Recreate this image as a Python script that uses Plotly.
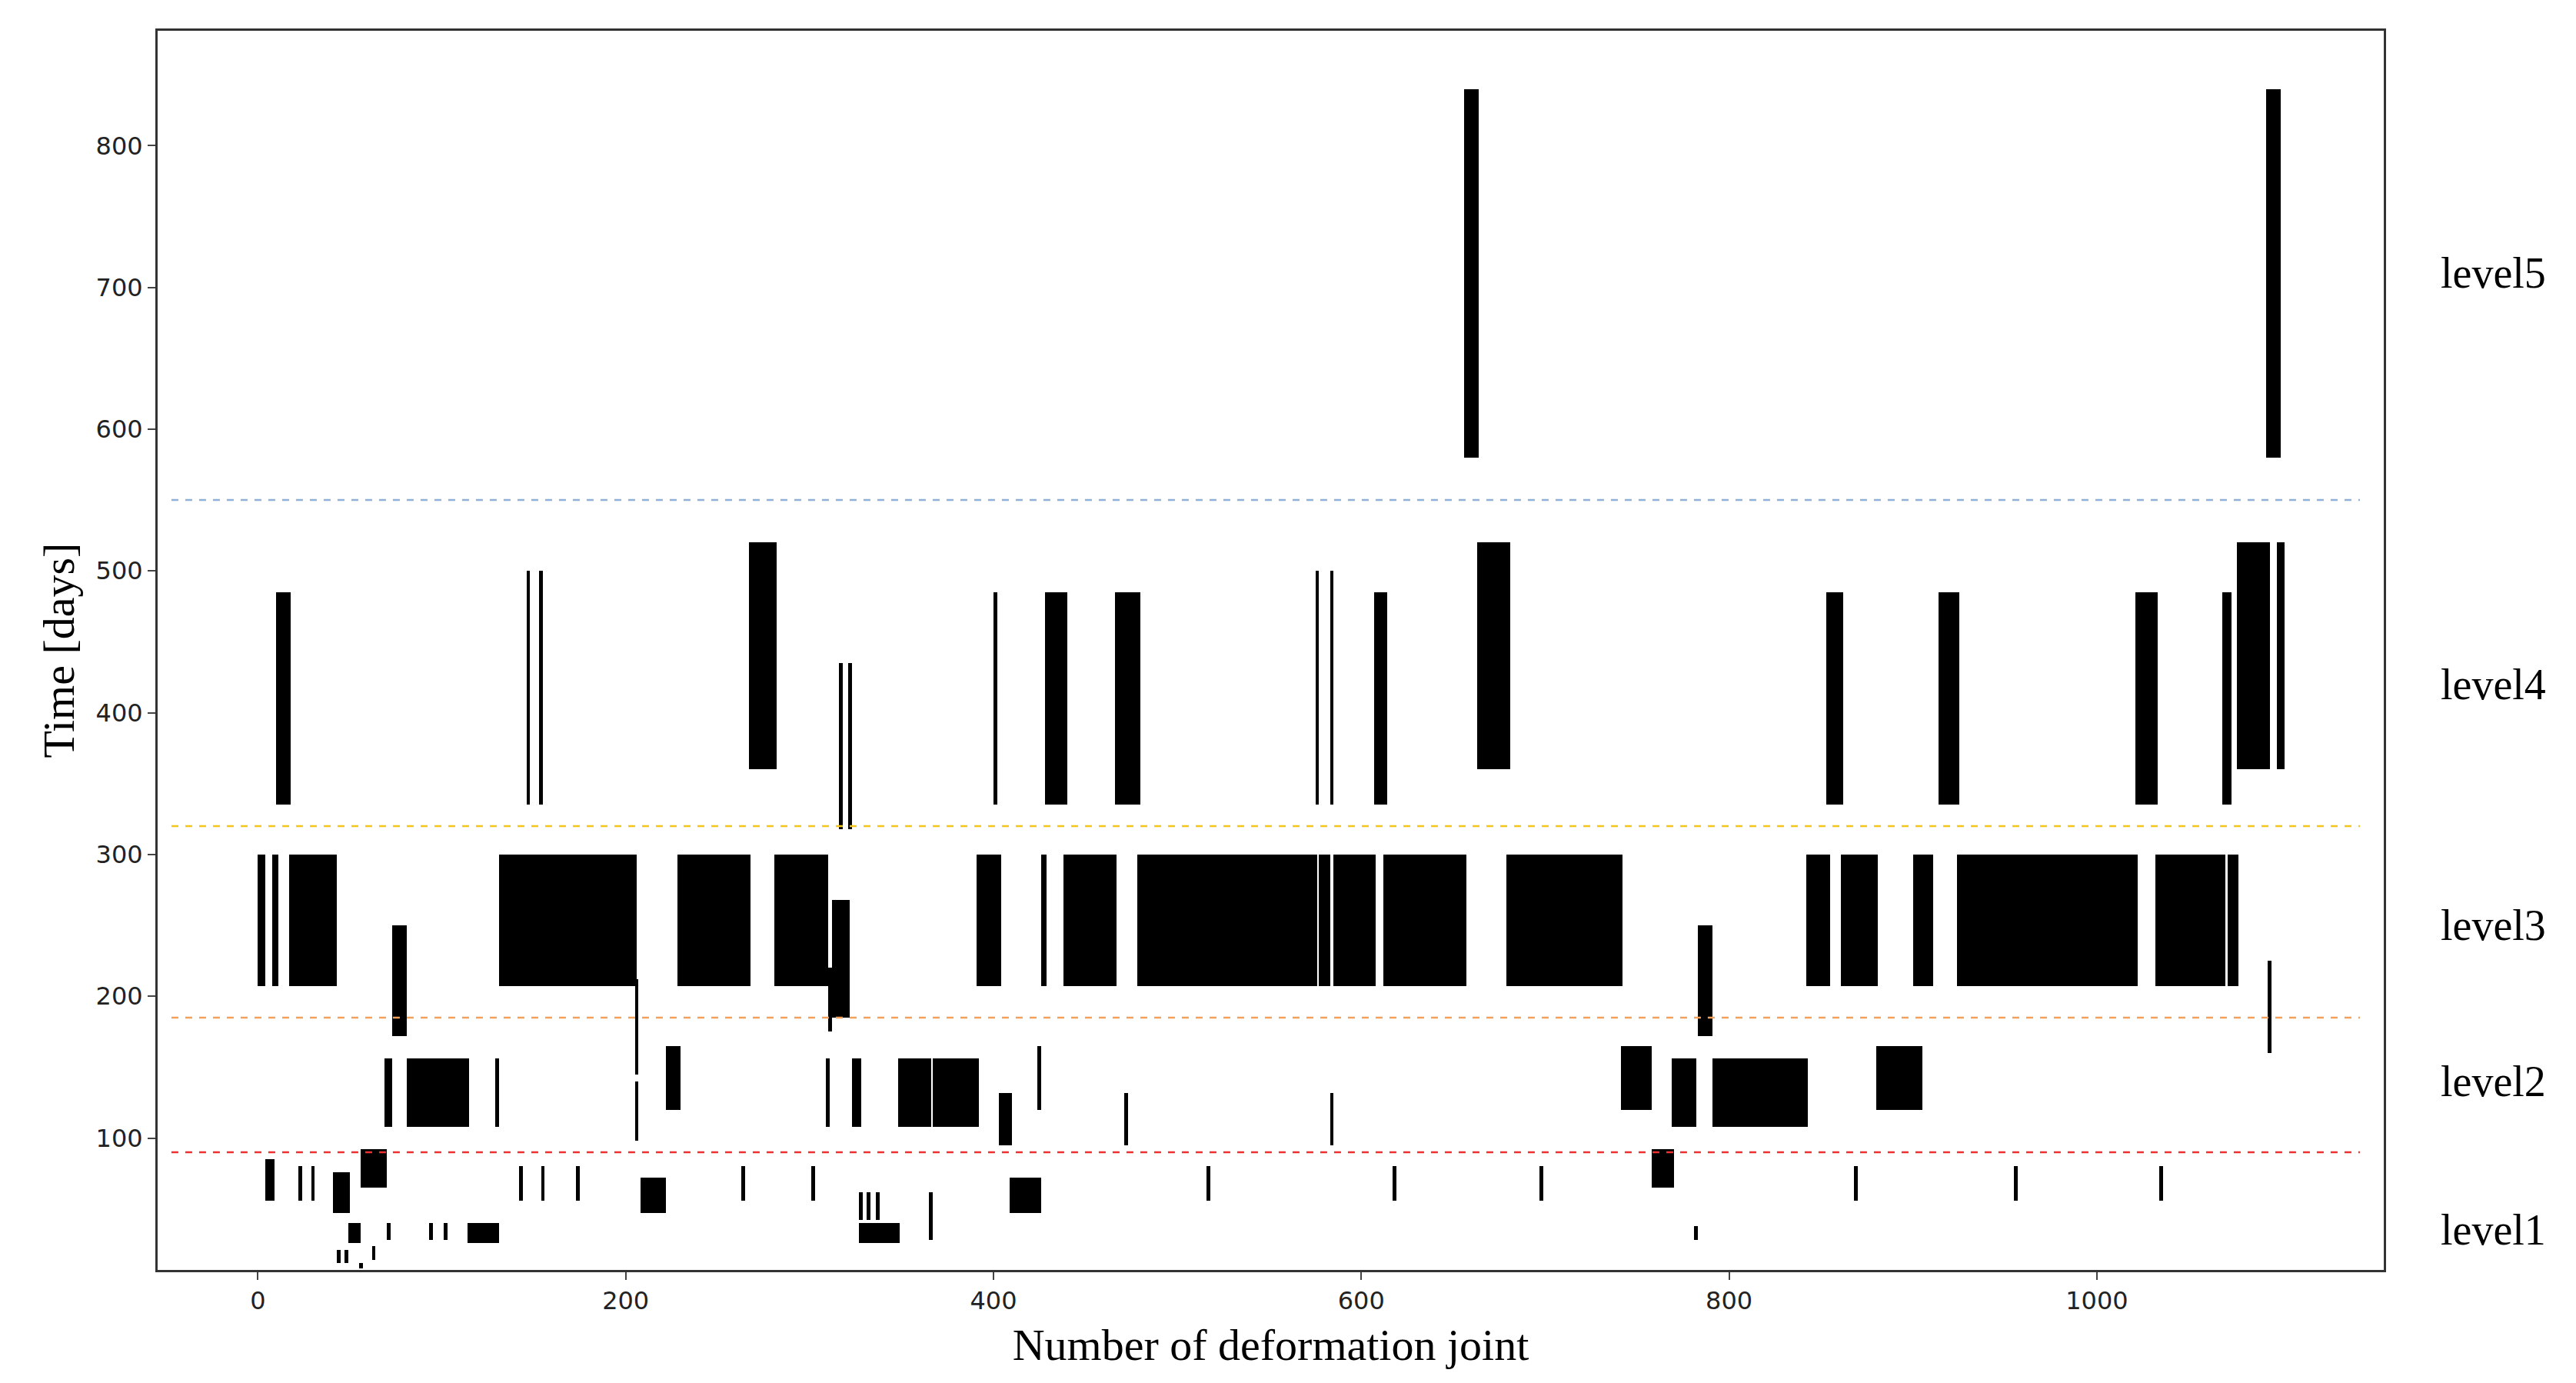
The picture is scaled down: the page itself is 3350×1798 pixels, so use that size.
import plotly.graph_objects as go

# each bar: joint start, joint end, time low, time high
x0 = [4, 22, 29, 41, 56, 142, 154, 173, 208, 263, 301, 327, 331, 336, 365, 409, 516, 617, 697, 758, 868, 955, 1034,
      49, 70, 93, 101, 114, 327, 365, 781,
      43, 47, 62, 55,
      69, 81, 129, 205, 222, 309, 323, 348, 367, 403, 424, 471, 583, 741, 769, 791, 880,
      73, 783, 312, 310, 205, 1093,
      0, 8, 17, 131, 228, 281, 391, 426, 438, 478, 577, 585, 612, 679, 842, 861, 900, 924, 1032, 1071,
      10, 146, 153, 267, 316, 321, 400, 428, 466, 575, 583, 607, 663, 853, 914, 1021, 1068, 1076, 1098,
      656, 1092]
x1 = [9, 24, 31, 50, 70, 144, 156, 175, 222, 265, 303, 329, 333, 338, 367, 426, 518, 619, 699, 770, 870, 957, 1036,
      56, 72, 95, 103, 131, 349, 367, 783,
      45, 49, 64, 57,
      73, 115, 131, 207, 230, 311, 328, 366, 392, 410, 426, 473, 585, 758, 782, 843, 905,
      81, 791, 322, 312, 207, 1095,
      4, 11, 43, 206, 268, 310, 404, 429, 467, 576, 583, 608, 657, 742, 855, 881, 911, 1022, 1070, 1077,
      18, 148, 155, 282, 318, 323, 402, 440, 480, 577, 585, 614, 681, 862, 925, 1033, 1073, 1094, 1102,
      664, 1100]
t0 = [56, 56, 56, 47, 65, 56, 56, 56, 47, 56, 56, 42, 42, 42, 40, 47, 56, 56, 56, 65, 56, 56, 56,
      26, 28, 28, 28, 26, 26, 28, 28,
      12, 12, 14, 8,
      108, 108, 108, 98, 120, 108, 108, 108, 108, 95, 120, 95, 95, 120, 108, 108, 120,
      172, 172, 185, 175, 145, 160,
      207, 207, 207, 207, 207, 207, 207, 207, 207, 207, 207, 207, 207, 207, 207, 207, 207, 207, 207, 207,
      335, 335, 335, 360, 318, 318, 335, 335, 335, 335, 335, 335, 360, 335, 335, 335, 335, 360, 360,
      580, 580]
t1 = [85, 80, 80, 76, 92, 80, 80, 80, 72, 80, 80, 62, 62, 62, 62, 72, 80, 80, 80, 92, 80, 80, 80,
      40, 40, 40, 40, 40, 40, 40, 38,
      21, 21, 24, 12,
      156, 156, 156, 140, 165, 156, 156, 156, 156, 132, 165, 132, 132, 165, 156, 156, 165,
      250, 250, 268, 220, 212, 225,
      300, 300, 300, 300, 300, 300, 300, 300, 300, 300, 300, 300, 300, 300, 300, 300, 300, 300, 300, 300,
      485, 500, 500, 520, 435, 435, 485, 485, 485, 500, 500, 485, 520, 485, 485, 485, 485, 520, 520,
      840, 840]

thresholds = [90, 185, 320, 550]
threshold_colors = ["#f03030", "#f5a05a", "#f5c518", "#8fb0d8"]
level_names = ["level1", "level2", "level3", "level4", "level5"]
level_pos = [35, 140, 250, 420, 710]

fig = go.Figure()
fig.add_trace(go.Bar(
    x=[(a + b) / 2 for a, b in zip(x0, x1)],
    width=[max(b - a, 1.6) for a, b in zip(x0, x1)],
    base=t0,
    y=[b - a for a, b in zip(t0, t1)],
    marker=dict(color="black", line=dict(width=0)),
    showlegend=False,
))

for th, c in zip(thresholds, threshold_colors):
    fig.add_trace(go.Scatter(
        x=[-47, 1143], y=[th, th], mode="lines",
        line=dict(color=c, width=2.5, dash="dash"), showlegend=False,
    ))

for name, pos in zip(level_names, level_pos):
    fig.add_annotation(
        x=1.025, xref="paper", y=pos, yref="y", text=name, showarrow=False,
        xanchor="left", font=dict(family="Liberation Serif", size=56, color="black"),
    )

fig.update_layout(
    width=3350, height=1798,
    margin=dict(l=197, r=258, t=32, b=155),
    plot_bgcolor="white", paper_bgcolor="white",
    barmode="overlay", bargap=0,
)
fig.update_xaxes(
    range=[-54.5, 1156], tickvals=[0, 200, 400, 600, 800, 1000],
    showgrid=False, zeroline=False, showline=True, mirror=True,
    linecolor="#333", linewidth=3, ticks="outside", ticklen=10, tickwidth=2,
    tickfont=dict(family="DejaVu Sans", size=32, color="#222"),
    title=dict(text="Number of deformation joint", standoff=18,
               font=dict(family="Liberation Serif", size=58, color="black")),
)
fig.update_yaxes(
    range=[7, 881], tickvals=[100, 200, 300, 400, 500, 600, 700, 800],
    showgrid=False, zeroline=False, showline=True, mirror=True,
    linecolor="#333", linewidth=3, ticks="outside", ticklen=10, tickwidth=2,
    tickfont=dict(family="DejaVu Sans", size=32, color="#222"),
    title=dict(text="Time [days]", standoff=10,
               font=dict(family="Liberation Serif", size=58, color="black")),
)

fig.write_html("out.html")
